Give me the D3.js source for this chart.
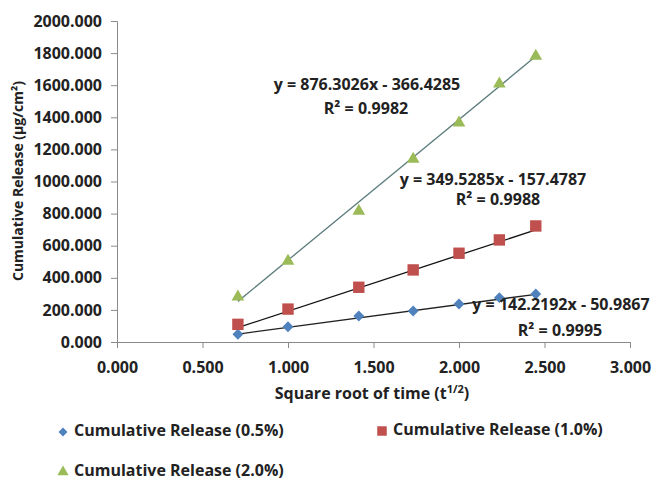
<!DOCTYPE html>
<html>
<head>
<meta charset="utf-8">
<script src="https://cdn.jsdelivr.net/npm/d3@7"></script>
<style>
  body { margin: 0; background: #fff; }
  text { font-family: "Open Sans", sans-serif; font-weight: bold; fill: #222; }
</style>
</head>
<body>
<svg width="654" height="482"></svg>
<script>
const width = 654, height = 482;

// sqrt(t) values shared by all series
const xValues = [0.707, 1.000, 1.414, 1.732, 2.000, 2.236, 2.449];
const release05 = [48, 95, 162, 193, 237, 276, 299];
const release10 = [110, 205, 341, 449, 553, 636, 723];
const release20 = [287, 511, 822, 1146, 1371, 1614, 1788];
const seriesNames = ["Cumulative Release (0.5%)", "Cumulative Release (1.0%)", "Cumulative Release (2.0%)"];
const slopes = [142.2192, 349.5285, 876.3026];
const intercepts = [-50.9867, -157.4787, -366.4285];
const rSquared = ["0.9995", "0.9988", "0.9982"];
const xTicks = [0, 0.5, 1, 1.5, 2, 2.5, 3];
const yTicks = [0, 200, 400, 600, 800, 1000, 1200, 1400, 1600, 1800, 2000];

const colors = ["#4f81bd", "#c0504d", "#9bbb59"];
const trendColors = ["#222", "#111", "#5b7b7c"];
const fs = 16;

const svg = d3.select("svg");

const x = d3.scaleLinear().domain([0, 3]).range([117, 630]);
const y = d3.scaleLinear().domain([0, 2000]).range([342, 21]);

// axes
const xAxis = svg.append("g")
    .attr("transform", `translate(0,${y(0)})`)
    .call(d3.axisBottom(x).tickValues(xTicks).tickFormat(d3.format(".3f")).tickSizeOuter(0).tickSize(6));
const yAxis = svg.append("g")
    .attr("transform", `translate(${x(0)},0)`)
    .call(d3.axisLeft(y).tickValues(yTicks).tickFormat(d3.format(".3f")).tickSizeOuter(0).tickSize(6));

[xAxis, yAxis].forEach(a => {
    a.select(".domain").attr("stroke", "#8a8a8a");
    a.selectAll(".tick line").attr("stroke", "#8a8a8a");
    a.selectAll(".tick text").attr("font-size", fs).attr("fill", "#222")
        .style("font-family", "'Open Sans', sans-serif").style("font-weight", "bold");
});
xAxis.selectAll(".tick text").attr("dy", "1.35em");
yAxis.selectAll(".tick text").attr("x", -15);

// axis titles
const yTitle = svg.append("text")
    .attr("transform", "translate(19,181) rotate(-90)")
    .attr("text-anchor", "middle")
    .attr("dominant-baseline", "middle")
    .attr("font-size", 14);
yTitle.text("Cumulative Release (µg/cm²)");

const xTitle = svg.append("text")
    .attr("x", 372).attr("y", 399)
    .attr("text-anchor", "middle")
    .attr("font-size", fs);
xTitle.append("tspan").text("Square root of time (t");
xTitle.append("tspan").attr("dy", -6).attr("font-size", 11).text("1/2");
xTitle.append("tspan").attr("dy", 6).text(")");

// trendlines
const allSeries = [release05, release10, release20];
const line = d3.line().x(d => x(d[0])).y(d => y(d[1]));
allSeries.forEach((s, i) => {
    const x0 = d3.min(xValues), x1 = d3.max(xValues);
    svg.append("path")
        .attr("d", line([[x0, slopes[i] * x0 + intercepts[i]], [x1, slopes[i] * x1 + intercepts[i]]]))
        .attr("stroke", trendColors[i])
        .attr("stroke-width", 1.3)
        .attr("fill", "none");
});

// markers
const symbols = [d3.symbolDiamond2, d3.symbolSquare, d3.symbolTriangle];
const sizes = [75, 130, 70];
allSeries.forEach((s, i) => {
    svg.append("g").selectAll("path")
        .data(s.map((v, j) => [xValues[j], v]))
        .join("path")
        .attr("transform", d => `translate(${x(d[0])},${y(d[1]) + (i === 2 ? 1 : 0)})`)
        .attr("d", d3.symbol(symbols[i], sizes[i]))
        .attr("fill", colors[i]);
});

// equation labels
const eqPos = [[561, 306, 560, 332], [493, 181, 498, 201], [367, 86, 366, 110]];
allSeries.forEach((s, i) => {
    const p = eqPos[i];
    svg.append("text")
        .attr("x", p[0]).attr("y", p[1])
        .attr("text-anchor", "middle").attr("dominant-baseline", "middle")
        .attr("font-size", fs)
        .text(`y = ${slopes[i].toFixed(4)}x - ${Math.abs(intercepts[i]).toFixed(4)}`);
    svg.append("text")
        .attr("x", p[2]).attr("y", p[3])
        .attr("text-anchor", "middle").attr("dominant-baseline", "middle")
        .attr("font-size", fs)
        .text(`R² = ${rSquared[i]}`);
});

// legend
const legendPos = [[63, 432], [382, 431], [63, 472]];
seriesNames.forEach((name, i) => {
    const g = svg.append("g").attr("transform", `translate(${legendPos[i][0]},${legendPos[i][1]})`);
    g.append("path")
        .attr("d", d3.symbol(symbols[i], [50, 90, 55][i]))
        .attr("fill", colors[i]);
    g.append("text")
        .attr("x", 11)
        .attr("dominant-baseline", "middle")
        .attr("font-size", fs)
        .text(name);
});
</script>
</body>
</html>
